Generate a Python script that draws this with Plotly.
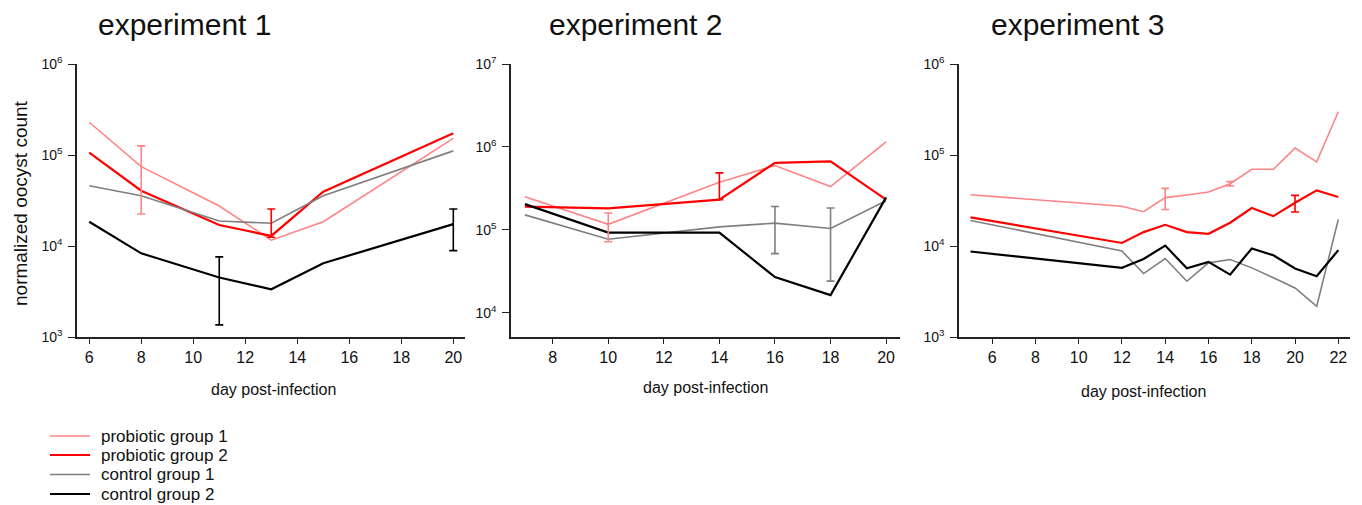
import plotly.graph_objects as go

# ---------------- data ----------------
series_names = ["probiotic group 1", "probiotic group 2", "control group 1", "control group 2"]

exp1_days = [6, 8, 11, 13, 15, 20]
exp1_pro1 = [2.29e5, 7.45e4, 2.75e4, 1.16e4, 1.85e4, 1.52e5]
exp1_pro2 = [1.06e5, 4.05e4, 1.70e4, 1.29e4, 3.95e4, 1.73e5]
exp1_ctl1 = [4.6e4, 3.57e4, 1.88e4, 1.78e4, 3.57e4, 1.11e5]
exp1_ctl2 = [1.85e4, 8.3e3, 4.5e3, 3.34e3, 6.46e3, 1.74e4]

exp2_days = [7, 10, 14, 16, 18, 20]
exp2_pro1 = [2.52e5, 1.17e5, 3.76e5, 5.98e5, 3.33e5, 1.15e6]
exp2_pro2 = [1.91e5, 1.82e5, 2.32e5, 6.44e5, 6.69e5, 2.32e5]
exp2_ctl1 = [1.52e5, 7.74e4, 1.09e5, 1.21e5, 1.04e5, 2.25e5]
exp2_ctl2 = [2.05e5, 9.3e4, 9.3e4, 2.70e4, 1.64e4, 2.47e5]

exp3_days = [5, 12, 13, 14, 15, 16, 17, 18, 19, 20, 21, 22]
exp3_pro1 = [3.66e4, 2.73e4, 2.38e4, 3.40e4, 3.63e4, 3.92e4, 4.84e4, 6.97e4, 6.97e4, 1.19e5, 8.4e4, 2.99e5]
exp3_pro2 = [2.06e4, 1.08e4, 1.42e4, 1.71e4, 1.42e4, 1.36e4, 1.80e4, 2.61e4, 2.13e4, 2.99e4, 4.09e4, 3.45e4]
exp3_ctl1 = [1.91e4, 8.8e3, 4.98e3, 7.29e3, 4.1e3, 6.53e3, 7.1e3, 5.75e3, 4.47e3, 3.46e3, 2.17e3, 1.96e4]
exp3_ctl2 = [8.7e3, 5.76e3, 7.2e3, 1.01e4, 5.7e3, 6.7e3, 4.85e3, 9.4e3, 7.9e3, 5.65e3, 4.66e3, 9.0e3]

# error bars: series index, day, upper bound, lower bound
exp1_err_series = [0, 1, 3, 3]
exp1_err_days = [8, 13, 11, 20]
exp1_err_hi = [1.26e5, 2.55e4, 7.6e3, 2.55e4]
exp1_err_lo = [2.25e4, 1.25e4, 1.36e3, 8.9e3]

exp2_err_series = [0, 1, 2, 2]
exp2_err_days = [10, 14, 16, 18]
exp2_err_hi = [1.6e5, 4.88e5, 1.92e5, 1.84e5]
exp2_err_lo = [7.2e4, 2.32e5, 5.19e4, 2.42e4]

exp3_err_series = [0, 0, 1]
exp3_err_days = [14, 17, 20]
exp3_err_hi = [4.3e4, 5.1e4, 3.6e4]
exp3_err_lo = [2.52e4, 4.57e4, 2.36e4]

titles = ["experiment 1", "experiment 2", "experiment 3"]
x_ticks = [[6, 8, 10, 12, 14, 16, 18, 20], [8, 10, 12, 14, 16, 18, 20], [6, 8, 10, 12, 14, 16, 18, 20, 22]]
y_ticks = [[1e3, 1e4, 1e5, 1e6], [1e4, 1e5, 1e6, 1e7], [1e3, 1e4, 1e5, 1e6]]
y_tick_text = [["10<sup>3</sup>", "10<sup>4</sup>", "10<sup>5</sup>", "10<sup>6</sup>"],
               ["10<sup>4</sup>", "10<sup>5</sup>", "10<sup>6</sup>", "10<sup>7</sup>"],
               ["10<sup>3</sup>", "10<sup>4</sup>", "10<sup>5</sup>", "10<sup>6</sup>"]]
x_label = "day post-infection"
y_label = "normalized oocyst count"

# ---------------- styling ----------------
W, H = 1362, 505
colors = ["#FF8484", "#FF0000", "#7F7F7F", "#000000"]
widths = [1.6, 2.2, 1.6, 2.2]
FONT = "Arial, Liberation Sans, sans-serif"
TXT = "#111111"

x_dom_px = [(77, 465), (511, 900), (959, 1350)]
y_dom_px = (64, 337)
x_ranges = [[5.53, 20.45], [6.5, 20.5], [4.47, 22.54]]
y_ranges = [[3, 6], [3.71, 7], [3, 6]]

experiments = [
    (exp1_days, [exp1_pro1, exp1_pro2, exp1_ctl1, exp1_ctl2], exp1_err_series, exp1_err_days, exp1_err_hi, exp1_err_lo),
    (exp2_days, [exp2_pro1, exp2_pro2, exp2_ctl1, exp2_ctl2], exp2_err_series, exp2_err_days, exp2_err_hi, exp2_err_lo),
    (exp3_days, [exp3_pro1, exp3_pro2, exp3_ctl1, exp3_ctl2], exp3_err_series, exp3_err_days, exp3_err_hi, exp3_err_lo),
]

fig = go.Figure()
layout = dict(
    width=W, height=H,
    margin=dict(l=0, r=0, t=0, b=0, autoexpand=False),
    paper_bgcolor="white", plot_bgcolor="white",
    font=dict(family=FONT, color=TXT, size=15),
    showlegend=False,
)

annotations = []
shapes = []
for i, (days, vals, e_ser, e_days, e_hi, e_lo) in enumerate(experiments):
    xa = "x" if i == 0 else f"x{i+1}"
    ya = "y" if i == 0 else f"y{i+1}"
    for s in range(4):
        fig.add_trace(go.Scatter(
            x=days, y=vals[s], mode="lines", name=series_names[s],
            line=dict(color=colors[s], width=widths[s]),
            xaxis=xa, yaxis=ya, hoverinfo="skip"))
    for k in range(len(e_ser)):
        s = e_ser[k]
        d = e_days[k]
        yv = vals[s][days.index(d)]
        fig.add_trace(go.Scatter(
            x=[d], y=[yv], mode="markers", marker=dict(size=1, opacity=0),
            error_y=dict(type="data", symmetric=False,
                         array=[e_hi[k] - yv], arrayminus=[yv - e_lo[k]],
                         color=colors[s], thickness=1.6, width=4),
            xaxis=xa, yaxis=ya, name=series_names[s] + " error", hoverinfo="skip"))

    xd = [x_dom_px[i][0] / W, x_dom_px[i][1] / W]
    yd = [1 - y_dom_px[1] / H, 1 - y_dom_px[0] / H]
    xkey = "xaxis" if i == 0 else f"xaxis{i+1}"
    ykey = "yaxis" if i == 0 else f"yaxis{i+1}"
    layout[xkey] = dict(domain=xd, anchor=ya, range=x_ranges[i],
                        tickmode="array", tickvals=x_ticks[i],
                        showline=True, linecolor="#222", linewidth=1.5,
                        ticks="outside", ticklen=5, tickwidth=1.3, tickcolor="#222",
                        ticklabelstandoff=0,
                        showgrid=False, zeroline=False,
                        tickfont=dict(size=16, family=FONT, color=TXT))
    layout[ykey] = dict(domain=yd, anchor=xa, type="log", range=y_ranges[i],
                        tickmode="array", tickvals=y_ticks[i], ticktext=y_tick_text[i],
                        showline=True, linecolor="#222", linewidth=1.5,
                        ticks="outside", ticklen=7, tickwidth=1.3, tickcolor="#222",
                        ticklabelstandoff=3,
                        showgrid=False, zeroline=False,
                        tickfont=dict(size=14, family=FONT, color=TXT))
    annotations.append(dict(text=titles[i], xref="paper", yref="paper",
                            x=[96, 547, 989][i] / W, y=1 - 24 / H,
                            xanchor="left", yanchor="middle", showarrow=False,
                            font=dict(size=30, family=FONT, color=TXT)))
    annotations.append(dict(text=x_label, xref="paper", yref="paper",
                            x=[273, 705, 1143][i] / W, y=1 - [389, 387, 391][i] / H,
                            xanchor="center", yanchor="middle", showarrow=False,
                            font=dict(size=16, family=FONT, color=TXT)))

annotations.append(dict(text=y_label, xref="paper", yref="paper",
                        x=20 / W, y=1 - 203 / H, xanchor="center", yanchor="middle",
                        textangle=-90, showarrow=False,
                        font=dict(size=19, family=FONT, color=TXT)))

# legend (drawn manually to match the compact spacing)
legend_y_px = [436, 455, 474.5, 494]
for s in range(4):
    yy = 1 - legend_y_px[s] / H
    shapes.append(dict(type="line", xref="paper", yref="paper",
                       x0=50 / W, x1=90 / W, y0=yy, y1=yy,
                       line=dict(color=colors[s], width=widths[s])))
    annotations.append(dict(text=series_names[s], xref="paper", yref="paper",
                            x=99 / W, y=yy, xanchor="left", yanchor="middle",
                            showarrow=False,
                            font=dict(size=17, family=FONT, color=TXT)))

layout["annotations"] = annotations
layout["shapes"] = shapes
fig.update_layout(**layout)
fig.write_html("out.html")
